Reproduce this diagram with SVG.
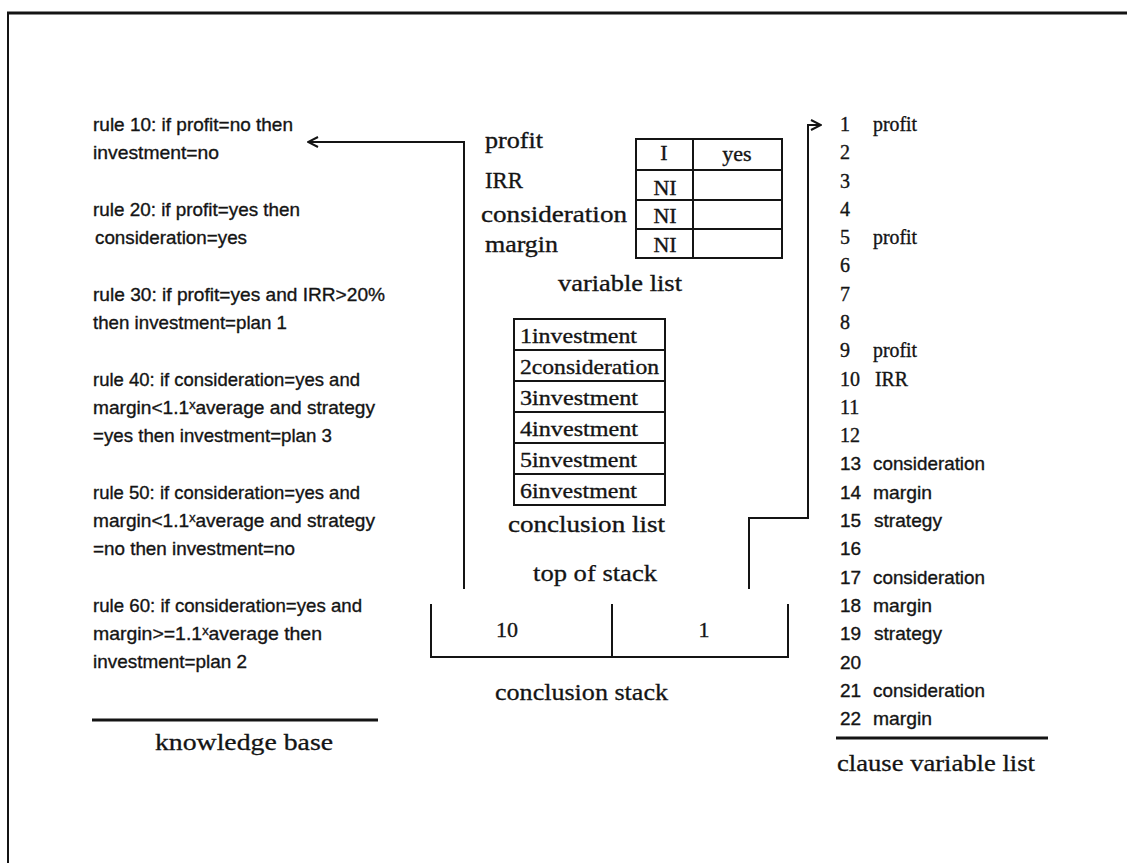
<svg xmlns="http://www.w3.org/2000/svg" width="1127" height="863" viewBox="0 0 1127 863">
<defs>
<style>
.kb{font-family:"Liberation Sans",Arial,sans-serif;font-size:19px;fill:#141414;stroke:#141414;stroke-width:0.35}
.sf{font-family:"Liberation Serif","Times New Roman",serif;fill:#141414;stroke:#141414;stroke-width:0.35}
.mid{font-size:24px}
.cell{font-size:22px}
.rl{font-size:20px}
.ttl{font-family:"Liberation Serif","Times New Roman",serif;font-size:24px;fill:#141414;stroke:#141414;stroke-width:0.3}
.ln{stroke:#141414;stroke-width:2;fill:none}
.thick{stroke:#141414;stroke-width:3;fill:none}
</style>
<marker id="openhead" viewBox="0 0 12 12" refX="11" refY="6" markerWidth="12" markerHeight="12" markerUnits="userSpaceOnUse" orient="auto">
<path d="M1,1 L11,6 L1,11" fill="none" stroke="#141414" stroke-width="2"/>
</marker>
</defs>
<rect x="0" y="0" width="1127" height="863" fill="#ffffff"/>
<g id="frame">
<line class="thick" x1="7" y1="13" x2="1127" y2="13"/>
<line class="ln" x1="8" y1="13" x2="8" y2="863"/>
</g>
<g id="knowledge-base">
<text class="kb" x="93" y="131" textLength="200" lengthAdjust="spacingAndGlyphs">rule 10: if profit=no then</text>
<text class="kb" x="93" y="159" textLength="126" lengthAdjust="spacingAndGlyphs">investment=no</text>
<text class="kb" x="93" y="216" textLength="207" lengthAdjust="spacingAndGlyphs">rule 20: if profit=yes then</text>
<text class="kb" x="95" y="244" textLength="152" lengthAdjust="spacingAndGlyphs">consideration=yes</text>
<text class="kb" x="93" y="301" textLength="292" lengthAdjust="spacingAndGlyphs">rule 30: if profit=yes and IRR&gt;20%</text>
<text class="kb" x="93" y="329" textLength="194" lengthAdjust="spacingAndGlyphs">then investment=plan 1</text>
<text class="kb" x="93" y="386" textLength="267" lengthAdjust="spacingAndGlyphs">rule 40: if consideration=yes and</text>
<text class="kb" x="93" y="414" textLength="282" lengthAdjust="spacingAndGlyphs">margin&lt;1.1ˣaverage and strategy</text>
<text class="kb" x="93" y="442" textLength="239" lengthAdjust="spacingAndGlyphs">=yes then investment=plan 3</text>
<text class="kb" x="93" y="499" textLength="267" lengthAdjust="spacingAndGlyphs">rule 50: if consideration=yes and</text>
<text class="kb" x="93" y="527" textLength="282" lengthAdjust="spacingAndGlyphs">margin&lt;1.1ˣaverage and strategy</text>
<text class="kb" x="93" y="555" textLength="202" lengthAdjust="spacingAndGlyphs">=no then investment=no</text>
<text class="kb" x="93" y="612" textLength="269" lengthAdjust="spacingAndGlyphs">rule 60: if consideration=yes and</text>
<text class="kb" x="93" y="640" textLength="229" lengthAdjust="spacingAndGlyphs">margin&gt;=1.1ˣaverage then</text>
<text class="kb" x="93" y="668" textLength="154" lengthAdjust="spacingAndGlyphs">investment=plan 2</text>
<line class="thick" x1="92" y1="720" x2="378" y2="720"/>
<text class="ttl" x="155" y="750" textLength="178" lengthAdjust="spacingAndGlyphs">knowledge base</text>
</g>
<g id="variable-list">
<text class="sf mid" x="485" y="148" textLength="58" lengthAdjust="spacingAndGlyphs">profit</text>
<text class="sf mid" x="485" y="188" textLength="38" lengthAdjust="spacingAndGlyphs">IRR</text>
<text class="sf mid" x="481" y="222" textLength="146" lengthAdjust="spacingAndGlyphs">consideration</text>
<text class="sf mid" x="485" y="252" textLength="73" lengthAdjust="spacingAndGlyphs">margin</text>
<rect class="ln" x="636" y="139" width="146" height="119"/>
<line class="ln" x1="693" y1="139" x2="693" y2="258"/>
<line class="ln" x1="636" y1="170" x2="782" y2="170"/>
<line class="ln" x1="636" y1="200" x2="782" y2="200"/>
<line class="ln" x1="636" y1="229" x2="782" y2="229"/>
<text class="sf cell" x="664" y="160" text-anchor="middle">I</text>
<text class="sf cell" x="737" y="161" text-anchor="middle">yes</text>
<text class="sf cell" x="665" y="195" text-anchor="middle">NI</text>
<text class="sf cell" x="665" y="223" text-anchor="middle">NI</text>
<text class="sf cell" x="665" y="252" text-anchor="middle">NI</text>
<text class="sf mid" x="558" y="291" textLength="124" lengthAdjust="spacingAndGlyphs">variable list</text>
</g>
<g id="conclusion-list">
<rect class="ln" x="514" y="319" width="151" height="186"/>
<line class="ln" x1="514" y1="350" x2="665" y2="350"/>
<line class="ln" x1="514" y1="381" x2="665" y2="381"/>
<line class="ln" x1="514" y1="412" x2="665" y2="412"/>
<line class="ln" x1="514" y1="443" x2="665" y2="443"/>
<line class="ln" x1="514" y1="474" x2="665" y2="474"/>
<text class="sf cell" x="520" y="343" textLength="117" lengthAdjust="spacingAndGlyphs">1investment</text>
<text class="sf cell" x="520" y="374" textLength="139" lengthAdjust="spacingAndGlyphs">2consideration</text>
<text class="sf cell" x="520" y="405" textLength="118" lengthAdjust="spacingAndGlyphs">3investment</text>
<text class="sf cell" x="520" y="436" textLength="118" lengthAdjust="spacingAndGlyphs">4investment</text>
<text class="sf cell" x="520" y="467" textLength="117" lengthAdjust="spacingAndGlyphs">5investment</text>
<text class="sf cell" x="520" y="498" textLength="117" lengthAdjust="spacingAndGlyphs">6investment</text>
<text class="sf mid" x="508" y="532" textLength="157" lengthAdjust="spacingAndGlyphs">conclusion list</text>
</g>
<g id="conclusion-stack">
<text class="ttl" x="533" y="581" textLength="124" lengthAdjust="spacingAndGlyphs">top of stack</text>
<path class="ln" d="M431,604 L431,657 L788,657 L788,604"/>
<line class="ln" x1="612" y1="604" x2="612" y2="657"/>
<text class="sf cell" x="507" y="637" text-anchor="middle">10</text>
<text class="sf cell" x="704" y="637" text-anchor="middle">1</text>
<text class="ttl" x="495" y="700" textLength="173" lengthAdjust="spacingAndGlyphs">conclusion stack</text>
</g>
<g id="clause-variable-list">
<g class="sf rl">
<text x="840" y="131">1</text>
<text x="840" y="159">2</text>
<text x="840" y="188">3</text>
<text x="840" y="216">4</text>
<text x="840" y="244">5</text>
<text x="840" y="272">6</text>
<text x="840" y="301">7</text>
<text x="840" y="329">8</text>
<text x="840" y="357">9</text>
<text x="840" y="386">10</text>
<text x="840" y="414">11</text>
<text x="840" y="442">12</text>
<text x="873" y="131" textLength="44" lengthAdjust="spacingAndGlyphs">profit</text>
<text x="873" y="244" textLength="44" lengthAdjust="spacingAndGlyphs">profit</text>
<text x="873" y="357" textLength="44" lengthAdjust="spacingAndGlyphs">profit</text>
<text x="875" y="386" textLength="33" lengthAdjust="spacingAndGlyphs">IRR</text>
</g>
<g class="kb">
<text x="840" y="470">13</text>
<text x="840" y="499">14</text>
<text x="840" y="527">15</text>
<text x="840" y="555">16</text>
<text x="840" y="584">17</text>
<text x="840" y="612">18</text>
<text x="840" y="640">19</text>
<text x="840" y="669">20</text>
<text x="840" y="697">21</text>
<text x="840" y="725">22</text>
<text x="873" y="470" textLength="112" lengthAdjust="spacingAndGlyphs">consideration</text>
<text x="873" y="499" textLength="59" lengthAdjust="spacingAndGlyphs">margin</text>
<text x="874" y="527" textLength="68" lengthAdjust="spacingAndGlyphs">strategy</text>
<text x="873" y="584" textLength="112" lengthAdjust="spacingAndGlyphs">consideration</text>
<text x="873" y="612" textLength="59" lengthAdjust="spacingAndGlyphs">margin</text>
<text x="874" y="640" textLength="68" lengthAdjust="spacingAndGlyphs">strategy</text>
<text x="873" y="697" textLength="112" lengthAdjust="spacingAndGlyphs">consideration</text>
<text x="873" y="725" textLength="59" lengthAdjust="spacingAndGlyphs">margin</text>
</g>
<line class="thick" x1="836" y1="738" x2="1048" y2="738"/>
<text class="ttl" x="837" y="771" textLength="198" lengthAdjust="spacingAndGlyphs">clause variable list</text>
</g>
<g id="connectors">
<path class="ln" d="M464,589 L464,142 L308,142" marker-end="url(#openhead)"/>
<path class="ln" d="M749,589 L749,518 L808,518 L808,125 L821,125" marker-end="url(#openhead)"/>
</g>
</svg>
